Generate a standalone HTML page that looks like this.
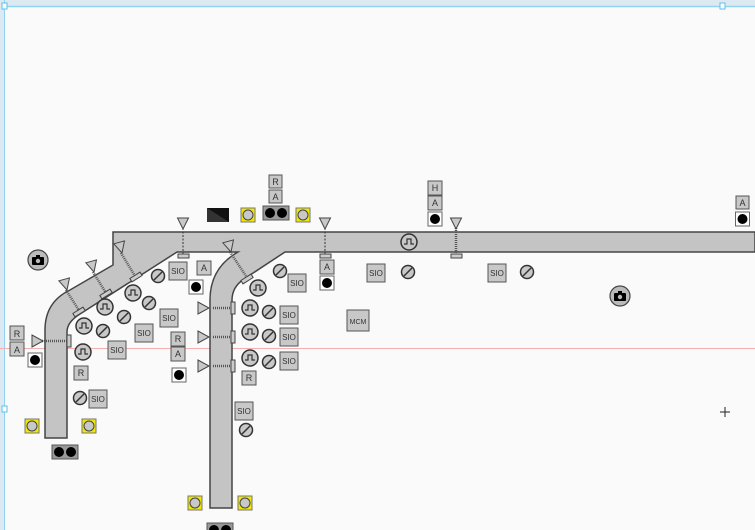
<!DOCTYPE html>
<html><head><meta charset="utf-8"><style>
html,body{margin:0;padding:0;background:#fafafa;}
svg{display:block;}
text{font-family:"Liberation Sans",sans-serif;fill:#333;text-anchor:middle;}
</style></head><body>
<svg width="755" height="530" viewBox="0 0 755 530" xmlns="http://www.w3.org/2000/svg">
<defs>
<g id="pulse"><circle r="8" fill="#c8c8c8" stroke="#333" stroke-width="1.5"/><path d="M-5,2 L-2,2 L-2,-3 L2,-3 L2,2 L5,2" fill="none" stroke="#333" stroke-width="1.2"/></g>
<g id="null"><circle r="6.5" fill="#c8c8c8" stroke="#333" stroke-width="1.5"/><line x1="-4" y1="4" x2="4" y2="-4" stroke="#333" stroke-width="1.5"/></g>
<g id="dot"><rect x="-7" y="-7" width="14" height="14" fill="#fff" stroke="#666"/><circle r="5" fill="#000"/></g>
<g id="yel"><rect x="-7" y="-7" width="14" height="14" fill="#f0e800" stroke="#777"/><circle r="5" fill="#c8c8c8" stroke="#444"/></g>
<g id="dd"><rect x="-13" y="-7" width="26" height="14" fill="#999" stroke="#555"/><circle cx="-6" r="5" fill="#000"/><circle cx="6" r="5" fill="#000"/></g>
<g id="triD"><path d="M-5.5,-11 L5.5,-11 L0,0 Z" fill="#c8c8c8" stroke="#444"/></g>
<g id="triR"><path d="M0,-6 L0,6 L11,0 Z" fill="#c8c8c8" stroke="#444"/></g>
<g id="cam"><circle r="10" fill="#bbb" stroke="#444" stroke-width="1.2"/><rect x="-6" y="-3" width="12" height="8" rx="1" fill="#000"/><rect x="-2" y="-5" width="4" height="3" fill="#000"/><circle cy="1" r="2.2" fill="#bbb"/></g>
</defs>
<rect x="0" y="0" width="755" height="6" fill="#dce9f2"/>
<line x1="0" y1="6.5" x2="755" y2="6.5" stroke="#8fd3f0" stroke-width="1.5"/>
<rect x="0" y="0" width="4" height="530" fill="#dce9f2"/>
<line x1="4.5" y1="0" x2="4.5" y2="530" stroke="#8fd3f0"/>
<rect x="2" y="3" width="5" height="6" fill="#fff" stroke="#5bc0eb"/>
<rect x="720" y="3" width="5" height="6" fill="#fff" stroke="#5bc0eb"/>
<rect x="2" y="406" width="5" height="6" fill="#fff" stroke="#5bc0eb"/>
<line x1="0" y1="348.5" x2="755" y2="348.5" stroke="#f4b0b0" stroke-width="1"/>
<path d="M113,232 L755,232 L755,252 L285,252 L244,279 Q232,287 232,300 L232,508 L210,508 L210,300 Q210,268 238,252 L177,252 L80,314 Q67,322 67,332 L67,438 L45,438 L45,330 Q45,302 70,290 L113,265 Z" fill="#c4c4c4" stroke="#444" stroke-width="1.5"/>
<g stroke="#555" stroke-width="2.5" stroke-dasharray="1,1">
<line x1="66" y1="290" x2="80" y2="312"/><line x1="93" y1="272" x2="106" y2="293"/><line x1="121" y1="253" x2="135" y2="276"/>
<line x1="230" y1="252" x2="246" y2="276"/>
<line x1="40" y1="341" x2="67" y2="341"/>
<line x1="213" y1="308" x2="232" y2="308"/><line x1="213" y1="337" x2="232" y2="337"/><line x1="213" y1="366" x2="232" y2="366"/>
<line x1="456" y1="228" x2="456" y2="254"/>
</g>
<g stroke="#333" stroke-width="1" stroke-dasharray="2,1.5">
<line x1="183" y1="228" x2="183" y2="254"/><line x1="325" y1="228" x2="325" y2="254"/>
</g>
<g fill="#ccc" stroke="#444">
<rect x="73" y="310" width="12" height="4" transform="rotate(-32 79 312)"/>
<rect x="100" y="292" width="12" height="4" transform="rotate(-32 106 294)"/>
<rect x="130" y="275" width="12" height="4" transform="rotate(-32 136 277)"/>
<rect x="241" y="277" width="12" height="4" transform="rotate(-32 247 279)"/>
<rect x="67" y="335" width="4" height="12"/>
<rect x="231" y="302" width="4" height="12"/><rect x="231" y="331" width="4" height="12"/><rect x="231" y="360" width="4" height="12"/>
<rect x="178" y="254" width="11" height="4"/><rect x="320" y="254" width="11" height="4"/><rect x="451" y="254" width="11" height="4"/>
</g>
<use href="#triD" transform="translate(183,229)"/><use href="#triD" transform="translate(325,229)"/><use href="#triD" transform="translate(456,229)"/>
<use href="#triD" transform="translate(67,290) rotate(-15)"/><use href="#triD" transform="translate(94,272) rotate(-15)"/><use href="#triD" transform="translate(122,253) rotate(-15)"/>
<use href="#triD" transform="translate(231,252) rotate(-15)"/>
<use href="#triR" transform="translate(32,341)"/>
<use href="#triR" transform="translate(198,308)"/><use href="#triR" transform="translate(198,337)"/><use href="#triR" transform="translate(198,366)"/>
<g fill="#c8c8c8" stroke="#555">
<rect x="269" y="175" width="13" height="13"/><rect x="269" y="190" width="13" height="13"/>
<rect x="428" y="181" width="14" height="14"/><rect x="428" y="196" width="14" height="14"/>
<rect x="736" y="196" width="13" height="13"/>
<rect x="320" y="260" width="14" height="14"/>
<rect x="197" y="261" width="14" height="14"/>
<rect x="171" y="332" width="14" height="14"/><rect x="171" y="347" width="14" height="14"/>
<rect x="10" y="326" width="14" height="14"/><rect x="10" y="342" width="14" height="14"/>
<rect x="74" y="366" width="14" height="14"/><rect x="242" y="371" width="14" height="14"/>
<rect x="367" y="264" width="18" height="18"/><rect x="488" y="264" width="18" height="18"/>
<rect x="347" y="310" width="22" height="21"/>
<rect x="169" y="262" width="18" height="18"/><rect x="160" y="309" width="18" height="18"/>
<rect x="135" y="324" width="18" height="18"/><rect x="108" y="341" width="18" height="18"/>
<rect x="89" y="390" width="18" height="18"/>
<rect x="288" y="274" width="18" height="18"/><rect x="280" y="306" width="18" height="18"/>
<rect x="280" y="328" width="18" height="18"/><rect x="280" y="352" width="18" height="18"/>
<rect x="235" y="402" width="18" height="18"/>
</g>
<g font-size="9">
<text x="275.5" y="185">R</text><text x="275.5" y="200">A</text>
<text x="435" y="191">H</text><text x="435" y="206">A</text>
<text x="742.5" y="206">A</text><text x="327" y="270">A</text><text x="204" y="271">A</text>
<text x="178" y="342">R</text><text x="178" y="357">A</text>
<text x="17" y="337">R</text><text x="17" y="353">A</text>
<text x="81" y="376">R</text><text x="249" y="381">R</text>
</g>
<g font-size="8">
<text x="376" y="276">SIO</text><text x="497" y="276">SIO</text>
<text x="178" y="274">SIO</text><text x="169" y="321">SIO</text><text x="144" y="336">SIO</text><text x="117" y="353">SIO</text><text x="98" y="402">SIO</text>
<text x="297" y="286">SIO</text><text x="289" y="318">SIO</text><text x="289" y="340">SIO</text><text x="289" y="364">SIO</text><text x="244" y="414">SIO</text>
</g>
<text x="358" y="324" font-size="7">MCM</text>
<use href="#pulse" x="409" y="242"/>
<use href="#pulse" x="84" y="326"/><use href="#pulse" x="105" y="307"/><use href="#pulse" x="133" y="293"/><use href="#pulse" x="83" y="352"/>
<use href="#pulse" x="258" y="288"/><use href="#pulse" x="250" y="308"/><use href="#pulse" x="250" y="332"/><use href="#pulse" x="250" y="358"/>
<use href="#null" x="408" y="272"/><use href="#null" x="527" y="272"/>
<use href="#null" x="103" y="331"/><use href="#null" x="124" y="317"/><use href="#null" x="158" y="276"/><use href="#null" x="149" y="303"/><use href="#null" x="80" y="398"/>
<use href="#null" x="280" y="271"/><use href="#null" x="269" y="312"/><use href="#null" x="269" y="336"/><use href="#null" x="269" y="362"/><use href="#null" x="246" y="430"/>
<use href="#dot" x="435" y="219"/><use href="#dot" x="742.5" y="219"/><use href="#dot" x="327" y="283"/><use href="#dot" x="196" y="287"/><use href="#dot" x="179" y="375"/><use href="#dot" x="35" y="360"/>
<use href="#yel" x="248" y="215"/><use href="#yel" x="303" y="215"/>
<use href="#yel" x="32" y="426"/><use href="#yel" x="89" y="426"/><use href="#yel" x="195" y="503"/><use href="#yel" x="245" y="503"/>
<use href="#dd" x="276" y="213"/><use href="#dd" x="65" y="452"/><use href="#dd" x="220" y="530"/>
<rect x="207" y="208" width="22" height="14" fill="#333"/><path d="M207,208 L229,208 L229,222 Z" fill="#111"/>
<use href="#cam" x="38" y="260"/><use href="#cam" x="620" y="296"/>
<path d="M720,412 L730,412 M725,407 L725,417" stroke="#222"/>
</svg>
</body></html>
